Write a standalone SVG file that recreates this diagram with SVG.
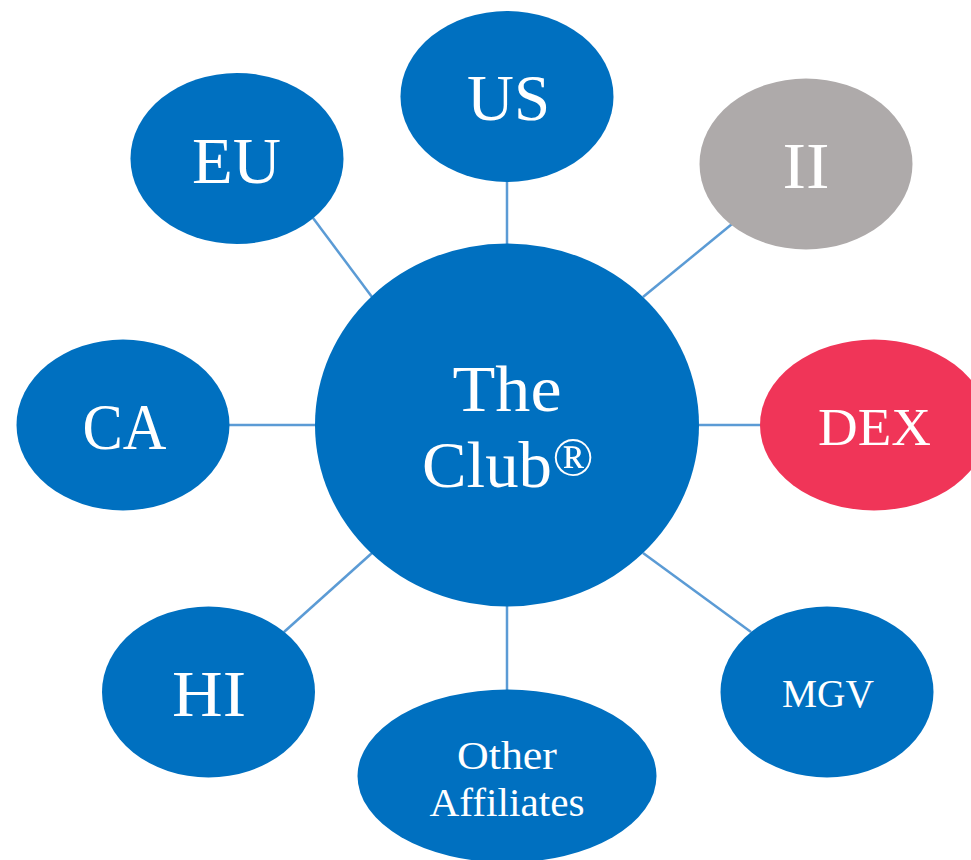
<svg xmlns="http://www.w3.org/2000/svg" width="971" height="860" viewBox="0 0 971 860">
<style>
.n{fill:#0070c0}
.t{fill:#fff;font-family:"Liberation Serif","Times New Roman",serif;text-anchor:middle}
.c line{stroke:#5b9bd5;stroke-width:2.5}
</style>
<rect width="971" height="860" fill="#fff"/>
<g id="connectors" class="c">
<line x1="507" y1="181" x2="507" y2="245"/>
<line x1="313" y1="218" x2="372" y2="297"/>
<line x1="732" y1="224" x2="643" y2="297"/>
<line x1="229" y1="425" x2="316" y2="425"/>
<line x1="698" y1="425" x2="761" y2="425"/>
<line x1="284" y1="632" x2="372" y2="553"/>
<line x1="507" y1="605" x2="507" y2="690"/>
<line x1="751" y1="632" x2="643" y2="553"/>
</g>
<g id="club"><ellipse class="n" cx="507" cy="425" rx="192" ry="181.500"/>
<text class="t" font-size="66" x="507" y="411" textLength="109" lengthAdjust="spacingAndGlyphs">The</text>
<text class="t" font-size="66" x="487" y="487" textLength="130" lengthAdjust="spacingAndGlyphs">Club</text>
<text class="t" font-size="54" x="573" y="475">®</text></g>
<g id="us"><ellipse class="n" cx="507" cy="96.500" rx="106.500" ry="85.500"/><text class="t" font-size="66" x="508.500" y="120" textLength="83" lengthAdjust="spacingAndGlyphs">US</text></g>
<g id="eu"><ellipse class="n" cx="237" cy="158.500" rx="106.500" ry="85.500"/><text class="t" font-size="66" x="236.500" y="183" textLength="89" lengthAdjust="spacingAndGlyphs">EU</text></g>
<g id="ii"><ellipse cx="806" cy="164" rx="106.500" ry="85.500" fill="#aeaaaa"/><text class="t" font-size="66" x="806" y="188" textLength="47" lengthAdjust="spacingAndGlyphs">II</text></g>
<g id="ca"><ellipse class="n" cx="123" cy="425" rx="106.500" ry="85.500"/><text class="t" font-size="66" x="124.500" y="449" textLength="84" lengthAdjust="spacingAndGlyphs">CA</text></g>
<g id="dex"><ellipse cx="874" cy="425" rx="114" ry="85.500" fill="#f03558"/><text class="t" font-size="53" x="874.500" y="445" textLength="113" lengthAdjust="spacingAndGlyphs">DEX</text></g>
<g id="hi"><ellipse class="n" cx="208.500" cy="692" rx="106.500" ry="85.500"/><text class="t" font-size="66" x="209" y="716" textLength="74" lengthAdjust="spacingAndGlyphs">HI</text></g>
<g id="mgv"><ellipse class="n" cx="827" cy="692" rx="106.500" ry="85.500"/><text class="t" font-size="39" x="828" y="707" textLength="92" lengthAdjust="spacingAndGlyphs">MGV</text></g>
<g id="other"><ellipse class="n" cx="507" cy="776" rx="149.500" ry="86.500"/>
<text class="t" font-size="39" x="507" y="769" textLength="100" lengthAdjust="spacingAndGlyphs">Other</text>
<text class="t" font-size="39" x="507" y="816" textLength="155" lengthAdjust="spacingAndGlyphs">Affiliates</text></g>
</svg>
